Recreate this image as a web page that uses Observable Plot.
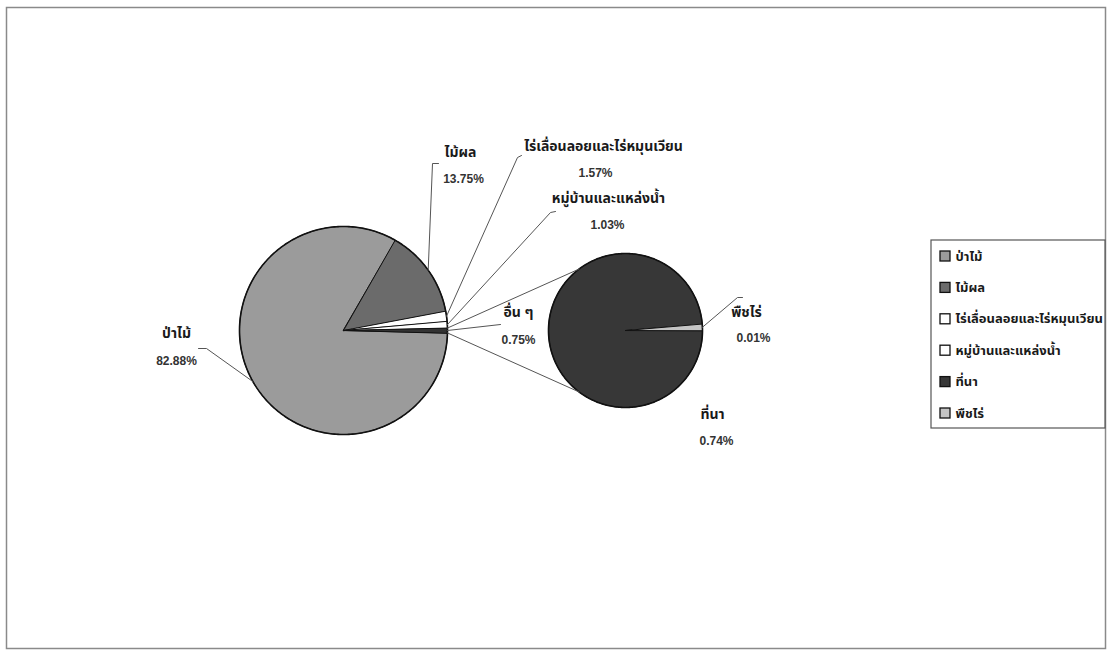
<!DOCTYPE html>
<html><head><meta charset="utf-8">
<script src="https://cdn.jsdelivr.net/npm/d3@7"></script>
<script src="https://cdn.jsdelivr.net/npm/@observablehq/plot@0.6"></script>
<style>
body{margin:0;background:#fff;}
#chart svg{display:block;background:#fff;}
</style>
</head><body><div id="chart"></div>
<script>
// ---- data ----
const mainCategories = ["ป่าไม้", "ไม้ผล", "ไร่เลื่อนลอยและไร่หมุนเวียน", "หมู่บ้านและแหล่งน้ำ", "อื่น ๆ"];
const mainValues = [82.88, 13.75, 1.57, 1.03, 0.75];
const subCategories = ["ที่นา", "พืชไร่"];
const subValues = [0.74, 0.01];
const legendCategories = ["ป่าไม้", "ไม้ผล", "ไร่เลื่อนลอยและไร่หมุนเวียน", "หมู่บ้านและแหล่งน้ำ", "ที่นา", "พืชไร่"];

// ---- styles ----
const colors = {
  "ป่าไม้": "#9b9b9b",
  "ไม้ผล": "#6b6b6b",
  "ไร่เลื่อนลอยและไร่หมุนเวียน": "#ffffff",
  "หมู่บ้านและแหล่งน้ำ": "#ffffff",
  "อื่น ๆ": "#333333",
  "ที่นา": "#373737",
  "พืชไร่": "#c4c4c4"
};
const thaiFont = "Tahoma, 'Noto Sans Thai', 'Leelawadee UI', 'Loma', 'Garuda', 'DejaVu Sans', sans-serif";
const numFont = "'Liberation Sans', Arial, sans-serif";

// ---- layout (pixel space) ----
const W = 1110, H = 654;
const main = {cx: 343, cy: 330, r: 104};
const sub = {cx: 625, cy: 330, r: 77};
const connectorSpread = 53; // degrees from 9 o'clock on the secondary pie

const rad = d => d * Math.PI / 180;
const pt = (c, r, a) => [c.cx + r * Math.sin(rad(a)), c.cy - r * Math.cos(rad(a))];

function slices(cats, vals, startAngle) {
  const total = d3.sum(vals);
  let a = startAngle;
  return cats.map((c, i) => {
    const span = vals[i] / total * 360;
    const s = {cat: c, a0: a, a1: a + span, mid: a + span / 2};
    a += span;
    return s;
  });
}
// main pie: "other" slice centred at 3 o'clock, drawn clockwise starting right after it
const mainTotal = d3.sum(mainValues);
const otherSpan = mainValues[mainValues.length - 1] / mainTotal * 360;
const mainSlices = slices(mainCategories, mainValues, 90 + otherSpan / 2);
const subSlices = slices(subCategories, subValues, 90);

function polygon(c, s, key) {
  const rows = [{key, x: c.cx, y: c.cy, fill: colors[s.cat]}];
  const n = Math.max(2, Math.ceil((s.a1 - s.a0) / 0.5));
  for (let k = 0; k <= n; k++) {
    const [x, y] = pt(c, c.r, s.a0 + (s.a1 - s.a0) * k / n);
    rows.push({key, x, y, fill: colors[s.cat]});
  }
  return rows;
}
const pieRows = [
  ...mainSlices.flatMap((s, i) => polygon(main, s, "m" + i)),
  ...subSlices.flatMap((s, i) => polygon(sub, s, "s" + i))
];
// outer rims of both pies (drawn thicker, as in the reference)
const rimRows = [main, sub].flatMap((c, j) => d3.range(0, 361, 1).map(a => {
  const [x, y] = pt(c, c.r, a);
  return {k: j, x, y};
}));

// label layout: name position, value position, leader elbow points
const labelLayout = {
  "ป่าไม้": {name: [176, 333], val: [176, 361], leader: [[206, 348], [198, 348]], pie: main},
  "ไม้ผล": {name: [460, 152], val: [463, 179], leader: [[432, 163], [438, 163]], pie: main},
  "ไร่เลื่อนลอยและไร่หมุนเวียน": {name: [603, 146], val: [595, 173], leader: [[517, 157], [521, 155]], pie: main},
  "หมู่บ้านและแหล่งน้ำ": {name: [608, 198], val: [607, 225], leader: [[550, 212], [555, 211]], pie: main},
  "อื่น ๆ": {name: [518, 312], val: [518, 340], leader: [[500, 324]], pie: main},
  "พืชไร่": {name: [746, 312], val: [753, 338], leader: [[737, 297], [742, 297]], pie: sub},
  "ที่นา": {name: [712, 414], val: [716, 441], leader: null, pie: sub}
};
const valueOf = Object.fromEntries([...mainCategories.map((c, i) => [c, mainValues[i]]), ...subCategories.map((c, i) => [c, subValues[i]])]);
const sliceOf = Object.fromEntries([...mainSlices, ...subSlices].map(s => [s.cat, s]));

const labelRows = Object.entries(labelLayout).map(([cat, l]) => ({cat, x: l.name[0], y: l.name[1], vx: l.val[0], vy: l.val[1], pct: valueOf[cat].toFixed(2) + "%"}));
const leaderRows = Object.entries(labelLayout).filter(([, l]) => l.leader).flatMap(([cat, l]) => {
  const [x0, y0] = pt(l.pie, l.pie.r, sliceOf[cat].mid);
  return [[x0, y0], ...l.leader].map(([x, y]) => ({cat, x, y}));
});

// connector lines between main "other" slice and secondary pie
const other = mainSlices[mainSlices.length - 1];
const connRows = [
  [pt(main, main.r, other.a0), pt(sub, sub.r, 270 + connectorSpread), "top"],
  [pt(main, main.r, other.a1), pt(sub, sub.r, 270 - connectorSpread), "bot"]
].flatMap(([a, b, k]) => [{k, x: a[0], y: a[1]}, {k, x: b[0], y: b[1]}]);

// legend
const legend = {x0: 931, y0: 240, x1: 1105, y1: 428, firstY: 256, step: 31.4, swX: 940, sw: 10, textX: 955};
const legendRows = legendCategories.map((c, i) => ({cat: c, y: legend.firstY + i * legend.step}));

const chart = Plot.plot({
  width: W, height: H,
  marginLeft: 6, marginTop: 7, marginRight: 5, marginBottom: 6,
  x: {domain: [0, W], range: [0, W], axis: null},
  y: {domain: [0, H], range: [0, H], axis: null},
  color: {type: "identity"},
  style: {background: "#fff"},
  marks: [
    Plot.frame({stroke: "#8a8a8a", strokeWidth: 1.5}),
    Plot.line(pieRows, {x: "x", y: "y", z: "key", fill: "fill", stroke: "#111", strokeWidth: 1, curve: "linear-closed", strokeLinejoin: "round"}),
    Plot.line(rimRows, {x: "x", y: "y", z: "k", stroke: "#111", strokeWidth: 1.6}),
    Plot.line(connRows, {x: "x", y: "y", z: "k", stroke: "#555", strokeWidth: 1}),
    Plot.line(leaderRows, {x: "x", y: "y", z: "cat", stroke: "#555", strokeWidth: 1}),
    Plot.text(labelRows, {x: "x", y: "y", text: "cat", fontSize: 14, fontWeight: "bold", fontFamily: thaiFont, fill: "#1a1a1a"}),
    Plot.text(labelRows, {x: "vx", y: "vy", text: "pct", fontSize: 12, fontWeight: "bold", fontFamily: numFont, fill: "#333"}),
    // legend
    Plot.rect([legend], {x1: "x0", x2: "x1", y1: "y0", y2: "y1", fill: "#fff", stroke: "#555", strokeWidth: 1.2}),
    Plot.rect(legendRows, {x1: legend.swX, x2: legend.swX + legend.sw, y1: d => d.y - legend.sw / 2, y2: d => d.y + legend.sw / 2, fill: d => colors[d.cat], stroke: "#111", strokeWidth: 1.3}),
    Plot.text(legendRows, {x: legend.textX, y: "y", text: "cat", textAnchor: "start", fontSize: 13, fontWeight: "bold", fontFamily: thaiFont, fill: "#1a1a1a"})
  ]
});
document.getElementById("chart").append(chart);
</script>
</body></html>
